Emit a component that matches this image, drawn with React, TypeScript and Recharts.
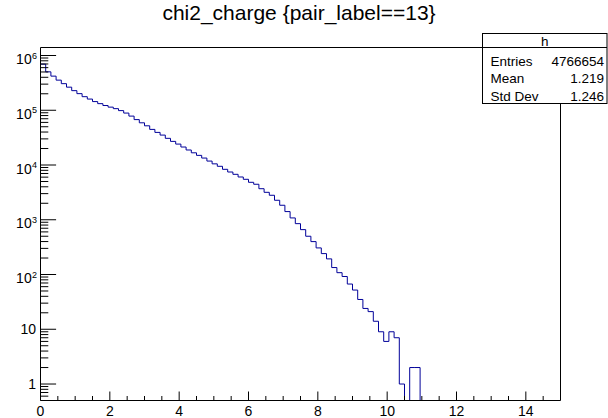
import { Line, LineChart, XAxis, YAxis } from "recharts";

// chi2_charge {pair_label==13}: 100 bins from 0 to 15
const BIN_WIDTH = 0.15;
const X_MAX = 15;
const Y_MIN = 0.5;
const Y_MAX = 1.4e6;

const counts = [
  695000, 503000, 420000, 355000, 306000, 264000, 228000, 201000, 177000, 160000,
  144000, 132000, 122000, 114000, 107000, 98500, 88800, 78200, 67500, 59000,
  52000, 44700, 39400, 35200, 30700, 27000, 24100, 21300, 18800, 16700,
  15000, 13400, 11800, 10500, 9470, 8340, 7450, 6760, 6040, 5480,
  4830, 4450, 3690, 3170, 2800, 2270, 1840, 1410, 1080, 849,
  660, 500, 399, 306, 241, 193, 134, 108, 92, 67,
  52, 35, 24, 21, 14, 9, 6, 9, 7, 1,
  0, 2, 2, 0, 0, 0, 0, 0, 0, 0,
  0, 0, 0, 0, 0, 0, 0, 0, 0, 0,
  0, 0, 0, 0, 0, 0, 0, 0, 0, 0,
];

const xTicks = [
  0, 0.5, 1, 1.5, 2, 2.5, 3, 3.5, 4, 4.5, 5, 5.5, 6, 6.5, 7, 7.5,
  8, 8.5, 9, 9.5, 10, 10.5, 11, 11.5, 12, 12.5, 13, 13.5, 14, 14.5,
];
const xLabels = [0, 2, 4, 6, 8, 10, 12, 14];

const decades = [-1, 0, 1, 2, 3, 4, 5, 6];
const multipliers = [1, 2, 3, 4, 5, 6, 7, 8, 9];

const stats = [
  { name: "Entries", value: "4766654" },
  { name: "Mean", value: "1.219" },
  { name: "Std Dev", value: "1.246" },
];

const yTicks = decades
  .flatMap((d) => multipliers.map((m) => m * Math.pow(10, d)))
  .filter((v) => v > Y_MIN && v <= Y_MAX);

// step points at the low edge of each bin, zero bins sit on the frame bottom
const table = counts
  .map((c, i) => ({ x: i * BIN_WIDTH, y: Math.max(c, Y_MIN) }))
  .concat([{ x: X_MAX, y: Math.max(counts[counts.length - 1], Y_MIN) }]);

const FONT = "'Liberation Sans', Arial, Helvetica, sans-serif";
const LINE = "#000099";

function XTick({ x, y, payload }: any) {
  const v = payload.value;
  const major = xLabels.some((l) => Math.abs(l - v) < 1e-6);
  return (
    <g>
      <line x1={x} x2={x} y1={y} y2={y - (major ? 9 : 4.5)} stroke="#000" />
      {major && (
        <text x={x} y={y + 15.5} textAnchor="middle" fontSize={14} fontFamily={FONT} fill="#000">
          {v}
        </text>
      )}
    </g>
  );
}

function YTick({ x, y, payload }: any) {
  const lg = Math.log10(payload.value);
  const n = Math.round(lg);
  const major = Math.abs(lg - n) < 1e-6;
  let label = null;
  if (major && n <= 1) {
    label = (
      <text x={x - 4.5} y={y + 5} textAnchor="end" fontSize={14} fontFamily={FONT} fill="#000">
        {n === 0 ? "1" : "10"}
      </text>
    );
  } else if (major) {
    label = (
      <g fontFamily={FONT} fill="#000">
        <text x={x - 8.8} y={y + 8.7} textAnchor="end" fontSize={14}>
          10
        </text>
        <text x={x - 8.4} y={y + 3} textAnchor="start" fontSize={9}>
          {n}
        </text>
      </g>
    );
  }
  return (
    <g>
      <line x1={x} x2={x + (major ? 15.6 : 7.8)} y1={y} y2={y} stroke="#000" />
      {label}
    </g>
  );
}

export default function App() {
  return (
    <div
      style={{
        position: "absolute",
        left: 0,
        top: 0,
        width: 608,
        height: 418,
        background: "#fff",
        fontFamily: FONT,
      }}
    >
      <LineChart
        width={608}
        height={418}
        data={table}
        margin={{ top: 46.5, right: 46.5, bottom: 0.5, left: 0.5 }}
      >
        <XAxis
          dataKey="x"
          type="number"
          domain={[0, X_MAX]}
          ticks={xTicks}
          interval={0}
          height={17}
          tickSize={0}
          tickMargin={0}
          tickLine={false}
          tick={<XTick />}
          axisLine={{ stroke: "#000" }}
          allowDataOverflow
        />
        <XAxis
          xAxisId="top"
          orientation="top"
          type="number"
          domain={[0, X_MAX]}
          height={1}
          tick={false}
          tickLine={false}
          axisLine={{ stroke: "#000" }}
        />
        <YAxis
          type="number"
          scale="log"
          domain={[Y_MIN, Y_MAX]}
          ticks={yTicks}
          interval={0}
          width={40}
          tickSize={0}
          tickMargin={0}
          tickLine={false}
          tick={<YTick />}
          axisLine={{ stroke: "#000" }}
          allowDataOverflow
        />
        <YAxis
          yAxisId="right"
          orientation="right"
          type="number"
          domain={[0, 1]}
          width={1}
          tick={false}
          tickLine={false}
          axisLine={{ stroke: "#000" }}
        />
        <Line
          dataKey="y"
          type="stepAfter"
          stroke={LINE}
          strokeWidth={1}
          dot={false}
          activeDot={false}
          isAnimationActive={false}
        />
      </LineChart>
      <svg
        width={608}
        height={418}
        style={{ position: "absolute", left: 0, top: 0, pointerEvents: "none" }}
        fontFamily={FONT}
      >
        <text x={299} y={19.5} textAnchor="middle" fontSize={21} fill="#000">
          chi2_charge {"{pair_label==13}"}
        </text>
        <rect x={482.5} y={33.5} width={124.5} height={70} fill="#fff" stroke="#000" />
        <line x1={482.5} x2={607} y1={47.5} y2={47.5} stroke="#000" />
        <text x={544.7} y={45.5} textAnchor="middle" fontSize={13.5} fill="#000">
          h
        </text>
        {stats.map((s, i) => (
          <g key={s.name} fontSize={13.5} fill="#000">
            <text x={490.5} y={65.5 + i * 17.5}>
              {s.name}
            </text>
            <text x={604} y={65.5 + i * 17.5} textAnchor="end">
              {s.value}
            </text>
          </g>
        ))}
      </svg>
    </div>
  );
}
